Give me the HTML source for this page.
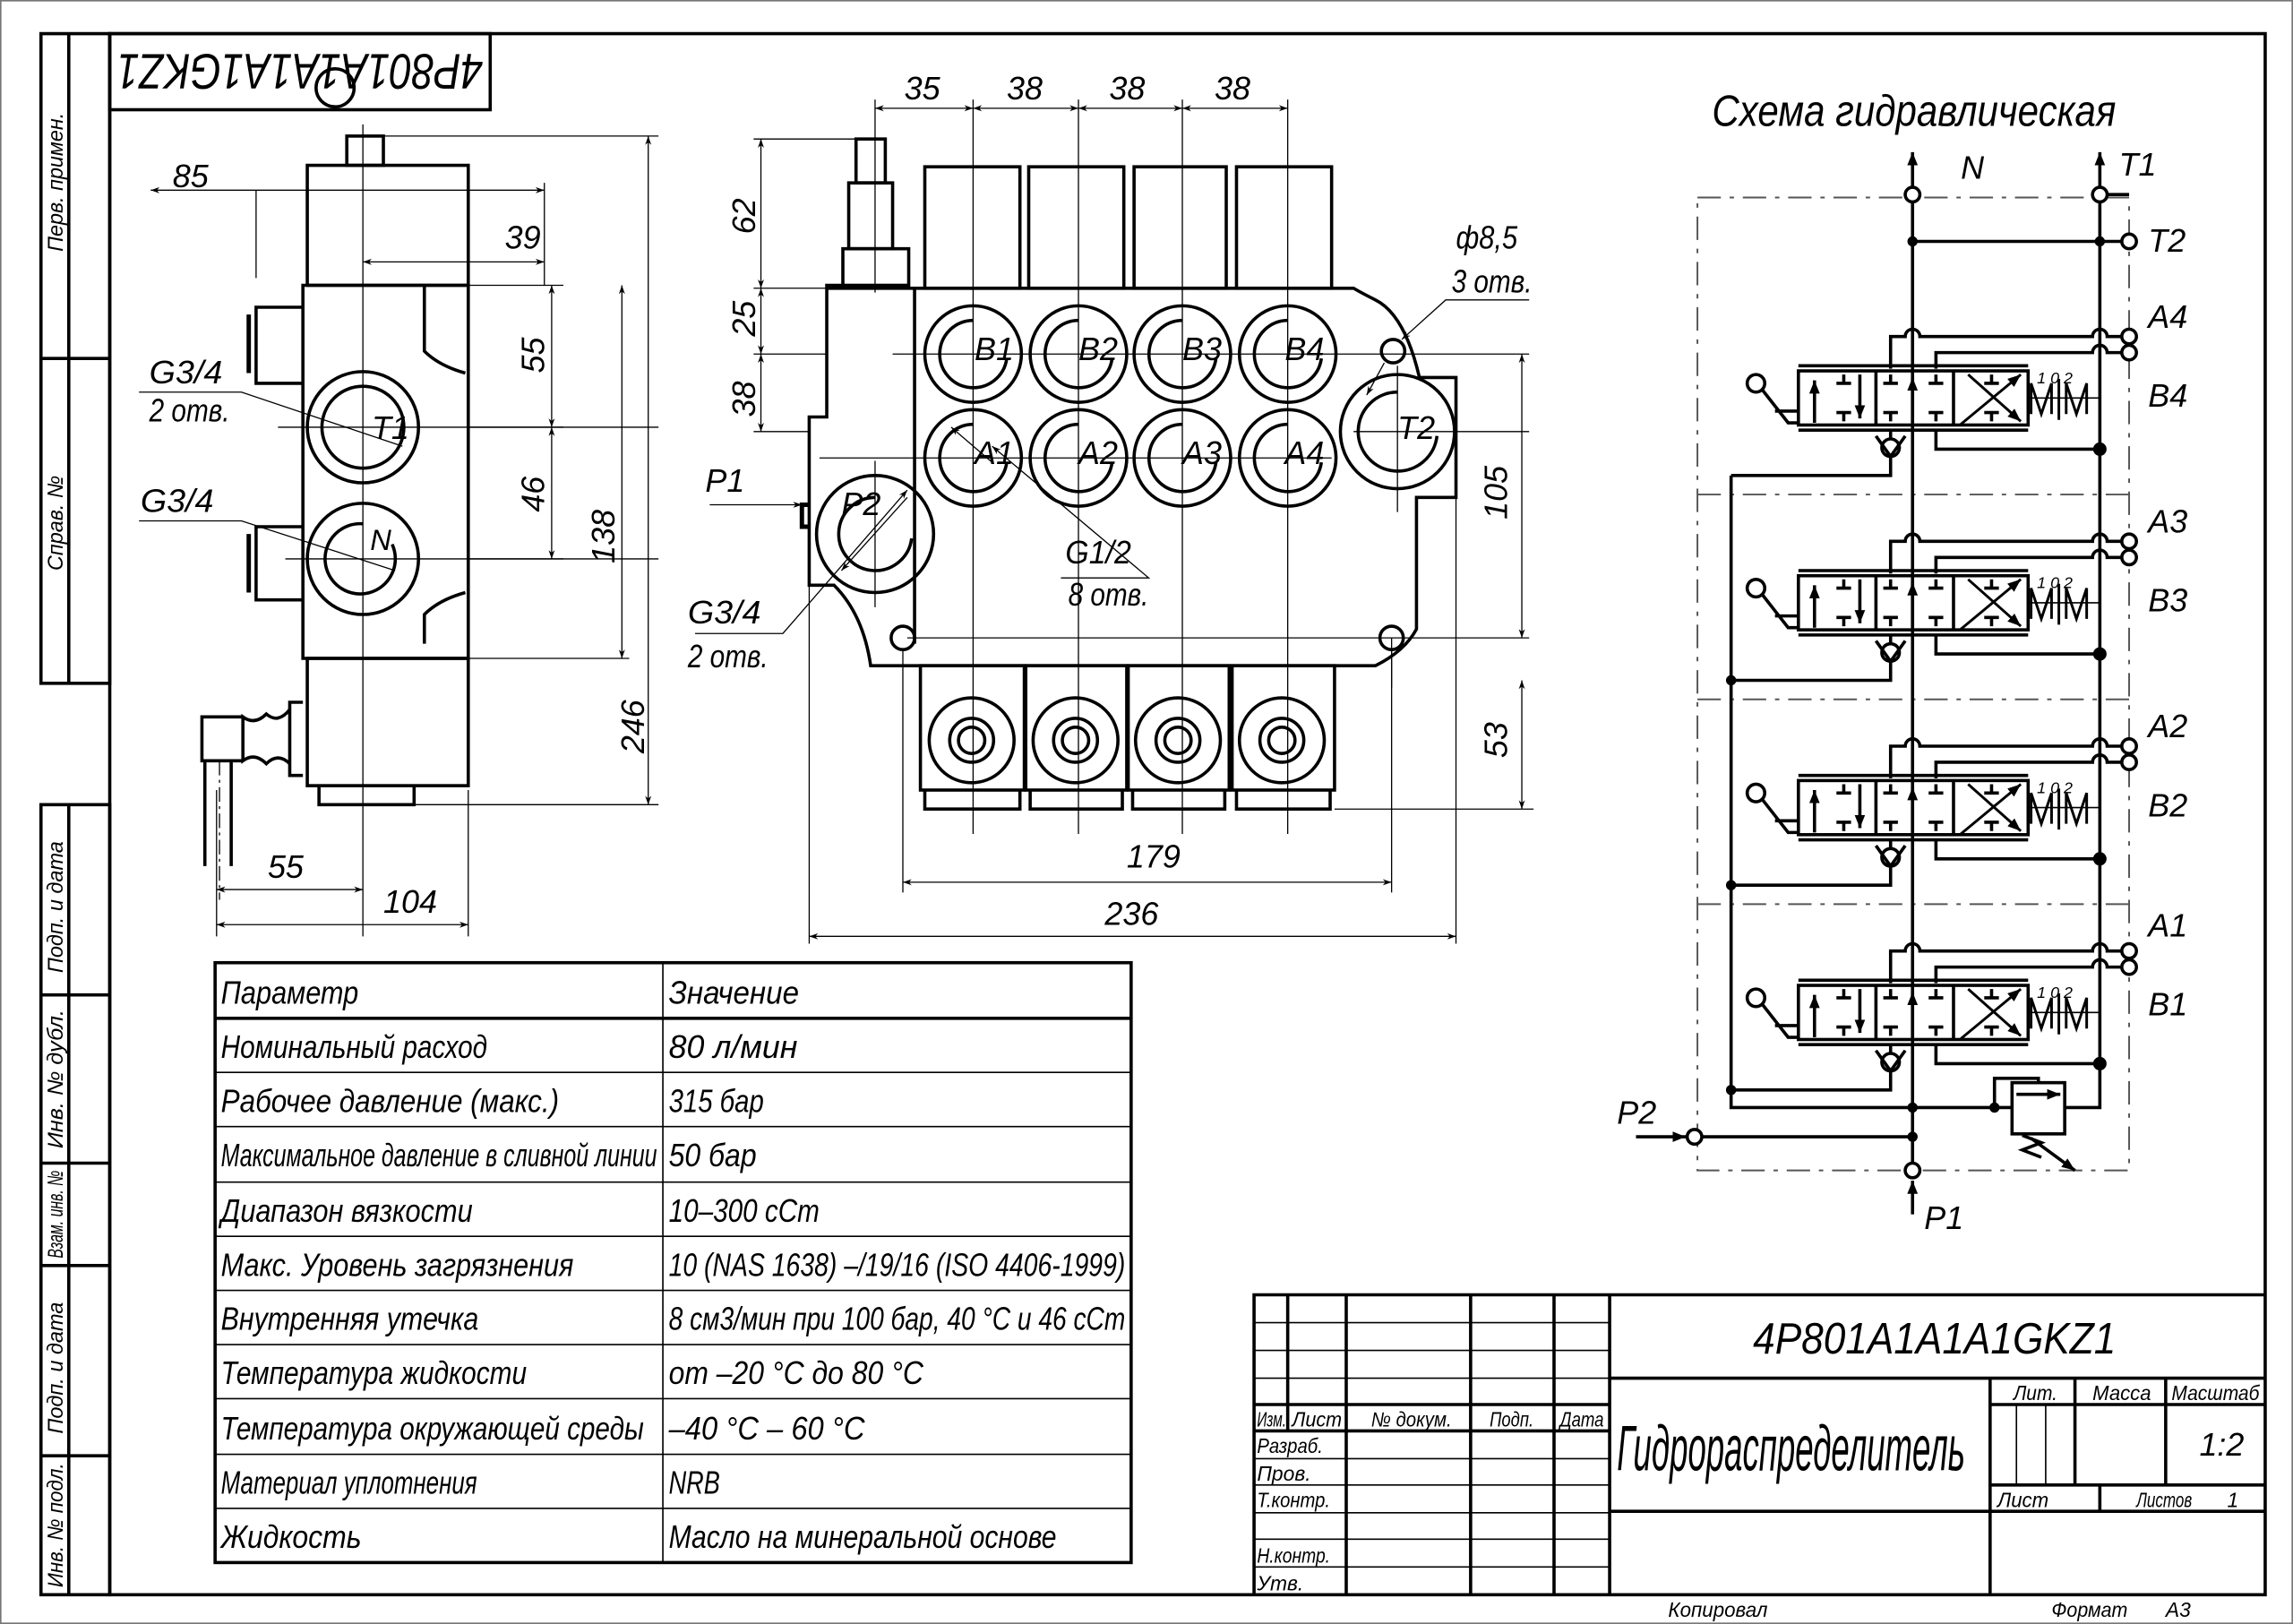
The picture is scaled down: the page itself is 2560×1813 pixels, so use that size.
<!DOCTYPE html>
<html><head><meta charset="utf-8">
<style>
html,body{margin:0;padding:0;background:#fff;}
svg{display:block;}
text{font-family:"Liberation Sans Narrow","Liberation Sans","DejaVu Sans",sans-serif;font-style:italic;fill:#000;}
</style></head><body>
<svg width="2560" height="1813" viewBox="0 0 1567 1110" preserveAspectRatio="none" xmlns="http://www.w3.org/2000/svg">
<defs>
<marker id="ar" viewBox="0 0 10 10" refX="10" refY="5" markerWidth="10" markerHeight="6" orient="auto-start-reverse" markerUnits="userSpaceOnUse"><path d="M0,1.5 L10,5 L0,8.5 L3,5z" fill="#000"/></marker>
<marker id="af" viewBox="0 0 10 10" refX="10" refY="5" markerWidth="9" markerHeight="9" orient="auto-start-reverse" markerUnits="userSpaceOnUse"><path d="M0,1 L10,5 L0,9z" fill="#000"/></marker>
<g id="sec" fill="none" stroke="#000" stroke-width="2.2">
  <path d="M1292,252 V230 H1302 a5,5 0 0 1 10,0 H1430 a5,5 0 0 1 10,0 H1450"/>
  <circle cx="1455" cy="230" r="5" fill="#fff"/>
  <path d="M1323,252 V241 H1430 a5,5 0 0 1 10,0 H1450"/>
  <circle cx="1455" cy="241" r="5" fill="#fff"/>
  <path d="M1229,250 H1386 M1229,294 H1386"/>
  <rect x="1229" y="253.5" width="157" height="37"/>
  <path d="M1282,253 V291 M1335,253 V291"/>
  <path d="M1240,289 V260" marker-end="url(#af)"/>
  <path d="M1271,256 V286" marker-end="url(#af)"/>
  <path d="M1260,256 V262 M1255,262 H1265 M1260,288 V282 M1255,282 H1265"/>
  <path d="M1292,256 V262 M1287,262 H1297 M1292,288 V282 M1287,282 H1297"/>
  <path d="M1323,256 V262 M1318,262 H1328 M1323,288 V282 M1318,282 H1328"/>
  <path d="M1307,289 V258" marker-end="url(#af)"/>
  <path d="M1340,290 L1381,256" marker-end="url(#af)" stroke-width="1.8"/>
  <path d="M1345,256 L1381,288" marker-end="url(#af)" stroke-width="1.8"/>
  <path d="M1361,256 V262 M1356,262 H1366 M1361,288 V282 M1356,282 H1366"/>
  <path d="M1388,283 V262 L1395,283 L1402,262 V283 M1407,259 V287 M1412,283 V262 L1419,283 L1426,262 V283" stroke-width="1.8"/>
  <path d="M1386,272 H1435" stroke-width="1"/>
  <circle cx="1200" cy="262" r="6"/>
  <path d="M1204,266 L1222,289 H1229 M1213,281 H1229"/>
  <path d="M1292,294 V300"/>
  <circle cx="1292" cy="306" r="6"/>
  <path d="M1282,298 L1292,312 L1302,298 M1292,312 V325 H1183"/>
  <path d="M1323,294 V307 H1435"/>
  <circle cx="1435" cy="307" r="3.5" fill="#000"/>
</g>
</defs>

<rect x="0.5" y="0.5" width="1566" height="1109" fill="none" stroke="#777" stroke-width="1"/>
<g fill="none" stroke="#000" stroke-width="2.2">
<rect x="75" y="23" width="1473" height="1067"/>
<path d="M28,23 H75 V467 H28 Z M47,23 V467 M28,245 H75"/>
<path d="M28,550 H75 V1090 H28 Z M47,550 V1090 M28,680 H75 M28,795 H75 M28,865 H75 M28,995 H75"/>
<rect x="75" y="23" width="260" height="52"/>
</g>
<g font-size="15">
<text transform="translate(43,172) rotate(-90)" textLength="95" lengthAdjust="spacingAndGlyphs">Перв. примен.</text>
<text transform="translate(43,390) rotate(-90)" textLength="65" lengthAdjust="spacingAndGlyphs">Справ. №</text>
<text transform="translate(43,665) rotate(-90)" textLength="90" lengthAdjust="spacingAndGlyphs">Подп. и дата</text>
<text transform="translate(43,785) rotate(-90)" textLength="95" lengthAdjust="spacingAndGlyphs">Инв. № дубл.</text>
<text transform="translate(43,860) rotate(-90)" textLength="60" lengthAdjust="spacingAndGlyphs">Взам. инв. №</text>
<text transform="translate(43,980) rotate(-90)" textLength="90" lengthAdjust="spacingAndGlyphs">Подп. и дата</text>
<text transform="translate(43,1085) rotate(-90)" textLength="85" lengthAdjust="spacingAndGlyphs">Инв. № подл.</text>
</g>
<text transform="translate(330,37) rotate(180)" font-size="34" textLength="250" lengthAdjust="spacingAndGlyphs">4P801A1A1A1GKZ1</text>
<circle cx="229" cy="60" r="13" fill="none" stroke="#000" stroke-width="2.2"/>

<!-- SIDE VIEW -->
<g fill="none" stroke="#000" stroke-width="2.2">
<rect x="237" y="93" width="25" height="20"/>
<rect x="210" y="113" width="110" height="82"/>
<path d="M207,195 H320 V450 H207 Z"/>
<path d="M207,210 H175 V262 H207 M207,360 H175 V410 H207"/>
<path d="M170,215 V255 M170,365 V405" stroke-width="3"/>
<path d="M290,195 V240 Q300,250 318,255 M290,440 V420 Q300,410 318,405"/>
<circle cx="248" cy="292" r="38"/><circle cx="248" cy="292" r="28"/>
<circle cx="248" cy="382" r="38"/>
<path d="M248,358 A24,24 0 1 0 268,372"/>
<rect x="210" y="450" width="110" height="87"/>
<path d="M218,537 V550 H283 V537"/>
<path d="M207,480 H198 V530 H207"/>
<path d="M198,485 Q190,495 182,488 Q174,496 166,490 V520 Q174,514 182,522 Q190,514 198,522"/>
<path d="M166,490 H138 V520 H166 M140,520 V592 M158,520 V592"/>
</g>
<g fill="none" stroke="#000" stroke-width="0.8">
<path d="M248,85 V640 M190,292 H450 M195,382 H450"/>
<path d="M150,520 V615" stroke-dasharray="10,3,2,3"/>
<path d="M103,130 H372" marker-start="url(#ar)" marker-end="url(#ar)"/>
<path d="M175,130 V190 M372,125 V195"/>
<path d="M248,179 H372" marker-start="url(#ar)" marker-end="url(#ar)"/>
<path d="M320,195 H385 M320,292 H385 M320,382 H385"/>
<path d="M377,195 V292" marker-start="url(#ar)" marker-end="url(#ar)"/>
<path d="M377,292 V382" marker-start="url(#ar)" marker-end="url(#ar)"/>
<path d="M262,93 H450 M320,450 H430 M283,550 H450"/>
<path d="M425,195 V450" marker-start="url(#ar)" marker-end="url(#ar)"/>
<path d="M443,93 V550" marker-start="url(#ar)" marker-end="url(#ar)"/>
<path d="M148,540 V640 M320,540 V640"/>
<path d="M148,608 H248" marker-start="url(#ar)" marker-end="url(#ar)"/>
<path d="M148,632 H320" marker-start="url(#ar)" marker-end="url(#ar)"/>
<path d="M95,268 H165 L275,305 M95,356 H165 L270,390"/>
</g>
<g font-size="22">
<text x="118" y="128">85</text>
<text x="345" y="170">39</text>
<text transform="translate(372,255) rotate(-90)">55</text>
<text transform="translate(372,350) rotate(-90)">46</text>
<text transform="translate(420,385) rotate(-90)">138</text>
<text transform="translate(440,515) rotate(-90)">246</text>
<text x="183" y="600">55</text>
<text x="262" y="624">104</text>
<text x="102" y="262" textLength="50" lengthAdjust="spacingAndGlyphs">G3/4</text>
<text x="102" y="288" textLength="55" lengthAdjust="spacingAndGlyphs">2 отв.</text>
<text x="96" y="350" textLength="50" lengthAdjust="spacingAndGlyphs">G3/4</text>
<text x="254" y="300">T1</text>
<text x="253" y="376" font-size="20">N</text>
</g>

<!-- FRONT VIEW -->
<g fill="none" stroke="#000" stroke-width="2.2">
<rect x="585" y="95" width="20" height="30"/>
<rect x="580" y="125" width="30" height="45"/>
<rect x="576" y="170" width="45" height="25"/>
<path d="M576,195 H565 V285 H553 V400 H570 Q590,420 595,455 H940 Q960,445 968,430 V340 H995 V258 H970 Q960,215 940,205 Q930,200 925,197 H565"/>
<path d="M625,197 V440"/>
<rect x="632" y="114" width="65" height="83"/>
<rect x="703" y="114" width="65" height="83"/>
<rect x="775" y="114" width="63" height="83"/>
<rect x="845" y="114" width="65" height="83"/>
<circle cx="665" cy="242" r="33"/><path d="M665,219 A23,23 0 1 0 688,245"/>
<circle cx="737" cy="242" r="33"/><path d="M737,219 A23,23 0 1 0 760,245"/>
<circle cx="808" cy="242" r="33"/><path d="M808,219 A23,23 0 1 0 831,245"/>
<circle cx="880" cy="242" r="33"/><path d="M880,219 A23,23 0 1 0 903,245"/>
<circle cx="665" cy="313" r="33"/><path d="M665,290 A23,23 0 1 0 688,316"/>
<circle cx="737" cy="313" r="33"/><path d="M737,290 A23,23 0 1 0 760,316"/>
<circle cx="808" cy="313" r="33"/><path d="M808,290 A23,23 0 1 0 831,316"/>
<circle cx="880" cy="313" r="33"/><path d="M880,290 A23,23 0 1 0 903,316"/>
<circle cx="955" cy="295" r="39"/><path d="M955,268 A27,27 0 1 0 982,298"/>
<circle cx="598" cy="365" r="40"/><path d="M598,340 A25,25 0 1 0 623,368"/>
<circle cx="617" cy="436" r="8"/><circle cx="951" cy="436" r="8"/><circle cx="952" cy="240" r="8"/>
<rect x="629" y="455" width="71" height="85"/><rect x="701" y="455" width="69" height="85"/>
<rect x="771" y="455" width="69" height="85"/><rect x="842" y="455" width="70" height="85"/>
<path d="M632,540 V553 H697 V540 M704,540 V553 H767 V540 M774,540 V553 H837 V540 M845,540 V553 H909 V540"/>
<circle cx="664" cy="506" r="29"/><circle cx="664" cy="506" r="15"/><circle cx="664" cy="506" r="9"/>
<circle cx="735" cy="506" r="29"/><circle cx="735" cy="506" r="15"/><circle cx="735" cy="506" r="9"/>
<circle cx="805" cy="506" r="29"/><circle cx="805" cy="506" r="15"/><circle cx="805" cy="506" r="9"/>
<circle cx="876" cy="506" r="29"/><circle cx="876" cy="506" r="15"/><circle cx="876" cy="506" r="9"/>
<path d="M553,345 H548 V360 H553" stroke-width="3"/>
</g>
<g fill="none" stroke="#000" stroke-width="0.8">
<path d="M598,68 V200 M665,68 V570 M737,68 V570 M808,68 V570 M880,68 V570 M955,250 V350 M598,315 V415 M620,436 H1045 M610,242 H1045 M925,295 H1045 M560,313 H910 M640,242 H900"/>
<path d="M598,74 H665" marker-start="url(#ar)" marker-end="url(#ar)"/>
<path d="M665,74 H737" marker-start="url(#ar)" marker-end="url(#ar)"/>
<path d="M737,74 H808" marker-start="url(#ar)" marker-end="url(#ar)"/>
<path d="M808,74 H880" marker-start="url(#ar)" marker-end="url(#ar)"/>
<path d="M515,95 H595 M515,197 H565 M515,242 H565 M515,295 H553"/>
<path d="M520,95 V197" marker-start="url(#ar)" marker-end="url(#ar)"/>
<path d="M520,197 V242" marker-start="url(#ar)" marker-end="url(#ar)"/>
<path d="M520,242 V295" marker-start="url(#ar)" marker-end="url(#ar)"/>
<path d="M1040,242 V436" marker-start="url(#ar)" marker-end="url(#ar)"/>
<path d="M912,553 H1048 M951,436 V470"/>
<path d="M1040,465 V553" marker-start="url(#ar)" marker-end="url(#ar)"/>
<path d="M617,445 V610 M951,445 V610 M553,400 V645 M995,340 V645"/>
<path d="M617,603 H951" marker-start="url(#ar)" marker-end="url(#ar)"/>
<path d="M553,640 H995" marker-start="url(#ar)" marker-end="url(#ar)"/>
<path d="M485,345 H548" marker-end="url(#ar)"/>
<path d="M475,433 H535 L620,335" marker-end="url(#ar)"/>
<path d="M575,390 L620,340" marker-start="url(#ar)"/>
<path d="M725,395 H785 L678,305" marker-end="url(#ar)"/>
<path d="M650,292 L678,316" marker-start="url(#ar)"/>
<path d="M1045,205 H988 L958,232" marker-end="url(#ar)"/>
<path d="M934,270 L946,248" marker-start="url(#ar)"/>
</g>
<g font-size="22">
<text x="618" y="68">35</text><text x="688" y="68">38</text><text x="758" y="68">38</text><text x="830" y="68">38</text>
<text transform="translate(516,160) rotate(-90)">62</text>
<text transform="translate(516,230) rotate(-90)">25</text>
<text transform="translate(516,285) rotate(-90)">38</text>
<text transform="translate(1030,355) rotate(-90)">105</text>
<text transform="translate(1030,518) rotate(-90)">53</text>
<text x="770" y="593">179</text>
<text x="755" y="632">236</text>
<text x="482" y="336">P1</text>
<text x="470" y="426" textLength="50" lengthAdjust="spacingAndGlyphs">G3/4</text>
<text x="470" y="456" textLength="55" lengthAdjust="spacingAndGlyphs">2 отв.</text>
<text x="728" y="385" textLength="45" lengthAdjust="spacingAndGlyphs">G1/2</text>
<text x="730" y="414" textLength="55" lengthAdjust="spacingAndGlyphs">8 отв.</text>
<text x="995" y="170" textLength="42" lengthAdjust="spacingAndGlyphs">ф8,5</text>
<text x="992" y="200" textLength="55" lengthAdjust="spacingAndGlyphs">3 отв.</text>
<text x="666" y="246">B1</text><text x="737" y="246">B2</text><text x="808" y="246">B3</text><text x="878" y="246">B4</text>
<text x="666" y="317">A1</text><text x="737" y="317">A2</text><text x="808" y="317">A3</text><text x="878" y="317">A4</text>
<text x="955" y="300">T2</text>
<text x="575" y="352">P2</text>
</g>

<!-- SCHEMATIC -->
<text x="1170" y="86" font-size="30" textLength="276" lengthAdjust="spacingAndGlyphs">Схема гидравлическая</text>
<g fill="none" stroke="#555" stroke-width="1.2" stroke-dasharray="16,6,3,6">
<rect x="1160" y="135" width="295" height="665"/>
<path d="M1160,338 H1455 M1160,478 H1455 M1160,618 H1455"/>
</g>
<use href="#sec"/>
<use href="#sec" y="140"/>
<use href="#sec" y="280"/>
<use href="#sec" y="420"/>
<g fill="none" stroke="#000" stroke-width="2.2">
<path d="M1307,138 V795 M1435,138 V757 H1411"/>
<path d="M1307,128 V104" marker-end="url(#af)"/>
<path d="M1435,128 V104" marker-end="url(#af)"/>
<circle cx="1307" cy="133" r="5" fill="#fff"/>
<circle cx="1435" cy="133" r="5" fill="#fff"/>
<path d="M1307,165 H1450"/><circle cx="1455" cy="165" r="5" fill="#fff"/>
<path d="M1440,133 H1455"/>
<path d="M1183,325 V757 H1375"/>
<rect x="1375" y="740" width="36" height="35"/>
<path d="M1378,748 H1408" marker-end="url(#af)"/>
<path d="M1363,757 V737 H1393 V740"/>
<path d="M1382,776 L1395,781 L1382,786 L1395,791"/>
<path d="M1388,778 L1418,800" marker-end="url(#af)"/>
<path d="M1163,777 H1307"/>
<circle cx="1158" cy="777" r="5" fill="#fff"/>
<path d="M1118,777 H1152" marker-end="url(#af)"/>
<circle cx="1307" cy="800" r="5" fill="#fff"/>
<path d="M1307,830 V807" marker-end="url(#af)"/>
</g>
<g fill="#000">
<circle cx="1307" cy="165" r="3.5"/><circle cx="1435" cy="165" r="3.5"/>
<circle cx="1183" cy="465" r="3.5"/><circle cx="1183" cy="605" r="3.5"/><circle cx="1183" cy="745" r="3.5"/>
<circle cx="1307" cy="757" r="3.5"/><circle cx="1363" cy="757" r="3.5"/><circle cx="1307" cy="777" r="3.5"/>
</g>
<g font-size="11">
<text x="1392" y="262">1  0  2</text><text x="1392" y="402">1  0  2</text>
<text x="1392" y="542">1  0  2</text><text x="1392" y="682">1  0  2</text>
</g>
<g font-size="22">
<text x="1340" y="122">N</text><text x="1448" y="120">T1</text><text x="1468" y="172">T2</text>
<text x="1468" y="224">A4</text><text x="1468" y="278">B4</text>
<text x="1468" y="364">A3</text><text x="1468" y="418">B3</text>
<text x="1468" y="504">A2</text><text x="1468" y="558">B2</text>
<text x="1468" y="640">A1</text><text x="1468" y="694">B1</text>
<text x="1105" y="768">P2</text><text x="1315" y="840">P1</text>
</g>

<!-- PARAMETER TABLE -->
<g fill="none" stroke="#000">
<rect x="147" y="658" width="626" height="410" stroke-width="2.2"/>
<path d="M147,696 H773" stroke-width="2.2"/>
<path d="M453,658 V1068" stroke-width="1"/>
<path d="M147,733 H773 M147,770 H773 M147,808 H773 M147,845 H773 M147,882 H773 M147,919 H773 M147,956 H773 M147,994 H773 M147,1031 H773" stroke-width="1"/>
</g>
<g font-size="22">
<text x="151" y="686" textLength="94" lengthAdjust="spacingAndGlyphs">Параметр</text><text x="457" y="686" textLength="89" lengthAdjust="spacingAndGlyphs">Значение</text>
<text x="151" y="723" textLength="182" lengthAdjust="spacingAndGlyphs">Номинальный расход</text><text x="457" y="723" textLength="88" lengthAdjust="spacingAndGlyphs">80 л/мин</text>
<text x="151" y="760" textLength="231" lengthAdjust="spacingAndGlyphs">Рабочее давление (макс.)</text><text x="457" y="760" textLength="65" lengthAdjust="spacingAndGlyphs">315 бар</text>
<text x="151" y="797" textLength="298" lengthAdjust="spacingAndGlyphs">Максимальное давление в сливной линии</text><text x="457" y="797" textLength="60" lengthAdjust="spacingAndGlyphs">50 бар</text>
<text x="151" y="835" textLength="172" lengthAdjust="spacingAndGlyphs">Диапазон вязкости</text><text x="457" y="835" textLength="103" lengthAdjust="spacingAndGlyphs">10–300 сСт</text>
<text x="151" y="872" textLength="241" lengthAdjust="spacingAndGlyphs">Макс. Уровень загрязнения</text><text x="457" y="872" textLength="312" lengthAdjust="spacingAndGlyphs">10 (NAS 1638) –/19/16 (ISO 4406-1999)</text>
<text x="151" y="909" textLength="176" lengthAdjust="spacingAndGlyphs">Внутренняя утечка</text><text x="457" y="909" textLength="312" lengthAdjust="spacingAndGlyphs">8 см3/мин при 100 бар, 40 °С и 46 сСт</text>
<text x="151" y="946" textLength="209" lengthAdjust="spacingAndGlyphs">Температура жидкости</text><text x="457" y="946" textLength="174" lengthAdjust="spacingAndGlyphs">от –20 °С до 80 °С</text>
<text x="151" y="984" textLength="289" lengthAdjust="spacingAndGlyphs">Температура окружающей среды</text><text x="457" y="984" textLength="134" lengthAdjust="spacingAndGlyphs">–40 °С – 60 °С</text>
<text x="151" y="1021" textLength="175" lengthAdjust="spacingAndGlyphs">Материал уплотнения</text><text x="457" y="1021" textLength="35" lengthAdjust="spacingAndGlyphs">NRB</text>
<text x="151" y="1058" textLength="96" lengthAdjust="spacingAndGlyphs">Жидкость</text><text x="457" y="1058" textLength="265" lengthAdjust="spacingAndGlyphs">Масло на минеральной основе</text>
</g>

<!-- TITLE BLOCK -->
<g fill="none" stroke="#000" stroke-width="2.2">
<path d="M857,1090 V885 H1548"/>
<path d="M880,885 V978 M920,885 V1090 M1005,885 V1090 M1062,885 V1090 M1100,885 V1090"/>
<path d="M857,960 H1100 M857,978 H1100 M1100,942 H1548 M1100,1033 H1548 M1360,942 V1090 M1360,960 H1548 M1360,1015 H1548 M1418,942 V1015 M1480,942 V1015 M1435,1015 V1033"/>
</g>
<g fill="none" stroke="#000" stroke-width="1">
<path d="M857,904 H1100 M857,923 H1100 M857,942 H1100 M857,997 H1100 M857,1015 H1100 M857,1034 H1100 M857,1052 H1100 M857,1071 H1100 M1378,960 V1015 M1398,960 V1015"/>
</g>
<g font-size="14">
<text x="859" y="975" textLength="20" lengthAdjust="spacingAndGlyphs">Изм.</text><text x="883" y="975" textLength="34" lengthAdjust="spacingAndGlyphs">Лист</text><text x="937" y="975" textLength="55" lengthAdjust="spacingAndGlyphs">№ докум.</text><text x="1018" y="975" textLength="30" lengthAdjust="spacingAndGlyphs">Подп.</text><text x="1066" y="975" textLength="30" lengthAdjust="spacingAndGlyphs">Дата</text>
<text x="859" y="993" textLength="45" lengthAdjust="spacingAndGlyphs">Разраб.</text><text x="859" y="1012">Пров.</text><text x="859" y="1030" textLength="50" lengthAdjust="spacingAndGlyphs">Т.контр.</text>
<text x="859" y="1068" textLength="50" lengthAdjust="spacingAndGlyphs">Н.контр.</text><text x="859" y="1087">Утв.</text>
<text x="1376" y="957" textLength="30" lengthAdjust="spacingAndGlyphs">Лит.</text><text x="1430" y="957" textLength="40" lengthAdjust="spacingAndGlyphs">Масса</text><text x="1484" y="957" textLength="60" lengthAdjust="spacingAndGlyphs">Масштаб</text>
<text x="1365" y="1030" textLength="35" lengthAdjust="spacingAndGlyphs">Лист</text><text x="1460" y="1030" textLength="38" lengthAdjust="spacingAndGlyphs">Листов</text><text x="1522" y="1030">1</text>
<text x="1140" y="1105" textLength="68" lengthAdjust="spacingAndGlyphs">Копировал</text><text x="1402" y="1105" textLength="52" lengthAdjust="spacingAndGlyphs">Формат</text><text x="1480" y="1105">A3</text>
</g>
<text x="1503" y="995" font-size="22">1:2</text>
<text x="1198" y="925" font-size="30" textLength="248" lengthAdjust="spacingAndGlyphs">4P801A1A1A1GKZ1</text>
<text x="1105" y="1005" font-size="44" textLength="238" lengthAdjust="spacingAndGlyphs">Гидрораспределитель</text>
</svg>
</body></html>
